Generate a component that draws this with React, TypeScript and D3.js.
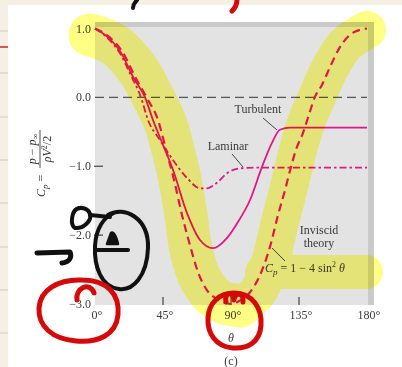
import React from 'react';
import * as d3 from 'd3';

const W = 402;
const H = 367;

// Axis ticks
const thetaTicks = [0, 45, 90, 135, 180];
const thetaTickLabels = ['0°', '45°', '90°', '135°', '180°'];
const cpTicks = [1, 0, -1, -2, -3];
const cpTickLabels = ['1.0', '0.0', '−1.0', '−2.0', '−3.0'];

// Inviscid theory, Cp = 1 − 4 sin²θ (degrees, Cp)
const inviscidTheta = [0, 9.9, 18.5, 26.5, 34.4, 41.7, 47, 52.3, 57.6, 62.9, 68.2, 74.1, 80.7, 90, 96, 102.6, 109.2, 115.8, 121.1, 125.7, 129.7, 133, 137.6, 141.6, 145.6, 150.2, 155.5, 162.1, 170.7, 180];
const inviscidCp = [1.0, 0.87, 0.65, 0.3, -0.01, -0.33, -0.76, -1.2, -1.71, -2.15, -2.54, -2.8, -2.93, -3.0, -2.95, -2.83, -2.58, -2.17, -1.71, -1.35, -1.01, -0.76, -0.52, -0.25, 0.01, 0.18, 0.44, 0.73, 0.94, 1.0];

// Turbulent boundary layer
const turbulentTheta = [0, 8.6, 17.2, 25.1, 33.1, 38.4, 45, 51.6, 60.9, 69.5, 78.1, 87.4, 94, 102.6, 110.5, 117.1, 122.4, 129, 140, 180];
const turbulentCp = [1.0, 0.87, 0.65, 0.3, 0.0, -0.33, -0.69, -1.05, -1.68, -2.07, -2.19, -2.04, -1.83, -1.49, -1.01, -0.66, -0.47, -0.44, -0.44, -0.44];

// Laminar boundary layer
const laminarTheta = [0, 7.9, 16.2, 24.2, 30.4, 35.1, 43, 51.6, 60.9, 69.5, 74.1, 80.7, 87.4, 96, 110, 180];
const laminarCp = [1.0, 0.87, 0.65, 0.3, 0.0, -0.33, -0.62, -0.91, -1.17, -1.32, -1.32, -1.24, -1.1, -1.03, -1.02, -1.02];

const zip = (a: number[], b: number[]) => a.map((v, i) => [v, b[i]] as [number, number]);

const SERIF = '"Liberation Serif", "Times New Roman", serif';
const MAGENTA = '#e01785';
const INK = '#3a3a3a';

export default function App() {
  const x = d3.scaleLinear().domain([0, 180]).range([95, 367]);
  const y = d3.scaleLinear().domain([-3, 1]).range([304, 28.5]);
  const line = d3
    .line<[number, number]>()
    .x((d) => x(d[0]))
    .y((d) => y(d[1]))
    .curve(d3.curveMonotoneX);

  const hl = d3.line<[number, number]>().curve(d3.curveCatmullRom.alpha(0.5));

  // highlighter strokes over the figure
  const leftBand: [number, number][] = [[90, 35], [115, 45], [138, 70], [153, 97], [165, 122], [173, 150], [180, 180], [186, 215], [191, 250], [201, 280], [218, 300], [240, 306]];
  const rightBand: [number, number][] = [[240, 306], [258, 292], [270, 262], [280, 222], [289, 187], [298, 150], [307, 120], [317, 97], [328, 72], [345, 45], [367, 30]];
  const stripLines = [31, 73, 117, 160, 203, 247, 290, 333];

  return (
    <svg width={W} height={H} style={{ position: 'fixed', left: 0, top: 0 }} fontFamily={SERIF}>
      <rect x={0} y={0} width={W} height={H} fill="#ffffff" />
      {/* notebook margin */}
      <rect x={0} y={0} width={W} height={5} fill="#f4f1e4" />
      <rect x={0} y={0} width={8} height={H} fill="#f4f1e4" />
      {stripLines.map((v) => (
        <line key={v} x1={0} x2={8} y1={v} y2={v} stroke="#c9c9c4" strokeWidth={1} />
      ))}
      <line x1={0} x2={8} y1={47} y2={47} stroke="#d42020" strokeWidth={1.5} />
      <path d="M137 0 C134 3,133 5,133 8" stroke="#111" strokeWidth={4} fill="none" strokeLinecap="round" />
      <path d="M237 0 C237 4,235 8,232 11" stroke="#d40a0a" strokeWidth={5} fill="none" strokeLinecap="round" />

      {/* plot panel */}
      <rect x={95} y={22} width={279} height={283} fill="#cacaca" />
      <rect x={95} y={27} width={273} height={278} fill="#e3e3e3" />

      {/* zero line */}
      <line x1={x(0)} x2={x(180)} y1={y(0)} y2={y(0)} stroke="#555" strokeWidth={1.3} strokeDasharray="9 5" />

      {/* y ticks and labels */}
      {cpTicks.map((t, i) => (
        <g key={t}>
          {(t === -1 || t === -2) && <line x1={94} x2={103} y1={y(t)} y2={y(t)} stroke="#444" strokeWidth={1.2} />}
          <text x={91} y={y(t) + 4} textAnchor="end" fontSize={12} fill={INK}>
            {cpTickLabels[i]}
          </text>
        </g>
      ))}

      {/* x ticks and labels */}
      {thetaTicks.map((t, i) => (
        <g key={t}>
          {t > 0 && t < 180 && <line x1={x(t)} x2={x(t)} y1={297} y2={305} stroke="#444" strokeWidth={1.2} />}
          <text x={x(t) + 2} y={319} textAnchor="middle" fontSize={12} fill={INK}>
            {thetaTickLabels[i]}
          </text>
        </g>
      ))}
      <text x={x(90)} y={342} textAnchor="middle" fontSize={12} fontStyle="italic" fill={INK}>θ</text>
      <text x={x(90)} y={365} textAnchor="middle" fontSize={12} fill={INK}>(c)</text>

      {/* y axis title */}
      <g transform="rotate(-90)" fill={INK} fontSize={12}>
        <text x={-197} y={45}>
          <tspan fontStyle="italic">C</tspan>
          <tspan fontStyle="italic" fontSize={9} dy={3}>p</tspan>
          <tspan dy={-3}> =</tspan>
        </text>
        <text x={-149} y={36} textAnchor="middle">
          <tspan fontStyle="italic">p</tspan>
          <tspan> − </tspan>
          <tspan fontStyle="italic">p</tspan>
          <tspan fontSize={8} dy={2}>∞</tspan>
        </text>
        <line x1={-168} x2={-130} y1={40} y2={40} stroke={INK} strokeWidth={0.9} />
        <text x={-149} y={51} textAnchor="middle">
          <tspan fontStyle="italic">ρV</tspan>
          <tspan fontSize={8} dy={-4}>2</tspan>
          <tspan dy={4}>/2</tspan>
        </text>
      </g>

      {/* curves */}
      <path d={line(zip(laminarTheta, laminarCp)) || ''} fill="none" stroke={MAGENTA} strokeWidth={1.8} strokeDasharray="7 3 2.5 3" />
      <path d={line(zip(turbulentTheta, turbulentCp)) || ''} fill="none" stroke={MAGENTA} strokeWidth={1.8} />
      <path d={line(zip(inviscidTheta, inviscidCp)) || ''} fill="none" stroke={MAGENTA} strokeWidth={2.2} strokeDasharray="8 5" />

      {/* curve labels */}
      <g fill={INK} fontSize={12}>
        <text x={258} y={113} textAnchor="middle">Turbulent</text>
        <text x={228} y={150} textAnchor="middle">Laminar</text>
        <text x={319} y={234} textAnchor="middle">Inviscid</text>
        <text x={319} y={247} textAnchor="middle">theory</text>
        <text x={265} y={272}>
          <tspan fontStyle="italic">C</tspan>
          <tspan fontStyle="italic" fontSize={9} dy={3}>p</tspan>
          <tspan dy={-3}> = 1 − 4 sin</tspan>
          <tspan fontSize={8} dy={-5}>2</tspan>
          <tspan dy={5} fontStyle="italic"> θ</tspan>
        </text>
      </g>
      <g stroke="#444" strokeWidth={1}>
        <line x1={263} y1={118} x2={277} y2={130} />
        <line x1={232} y1={154} x2={243} y2={167} />
        <line x1={272} y1={248} x2={285} y2={261} />
      </g>

      {/* highlighter */}
      <g style={{ mixBlendMode: 'multiply' }} fill="none" stroke="#ffff86" strokeLinecap="round" strokeLinejoin="round">
        <path d={hl(leftBand) || ''} strokeWidth={43} />
        <path d={hl(rightBand) || ''} strokeWidth={38} />
        <path d="M262 272 L366 272" strokeWidth={34} />
      </g>

      {/* pen marks */}
      <g fill="none" stroke="#111" strokeWidth={4} strokeLinecap="round" strokeLinejoin="round">
        <path d="M79 208 C71 210,70 225,75 228 C83 229,92 221,90 214 C88 208,80 206,75 210" />
        <path d="M90 215 L110 217" />
        <path d="M108 215 C124 205,149 218,148 248 C147 276,133 291,119 289 C101 287,94 266,95 246 C96 228,104 217,114 213" />
        <path d="M97 250 L128 250" />
        <path d="M37 253 L70 252 C72 257,70 262,62 263" strokeWidth={5} />
      </g>
      <path d="M107 244 L111 233 C113 231,116 235,118 244 Z" fill="#111" stroke="#111" strokeWidth={2.5} strokeLinejoin="round" />

      <g fill="none" stroke="#d40a0a" strokeWidth={5} strokeLinecap="round" strokeLinejoin="round">
        <path d="M77 300 C75 288,90 281,94 293" />
        <path d="M82 280 C108 280,120 295,118 315 C116 335,98 343,76 341 C52 339,38 326,39 308 C40 290,58 279,82 280" />
        <path d="M226 302 C224 292,233 291,234 300 C235 292,244 292,243 302" />
        <path d="M234 293 C254 293,262 310,261 325 C260 342,248 349,233 348 C216 347,207 333,208 318 C209 302,220 293,234 293" />
      </g>
    </svg>
  );
}
